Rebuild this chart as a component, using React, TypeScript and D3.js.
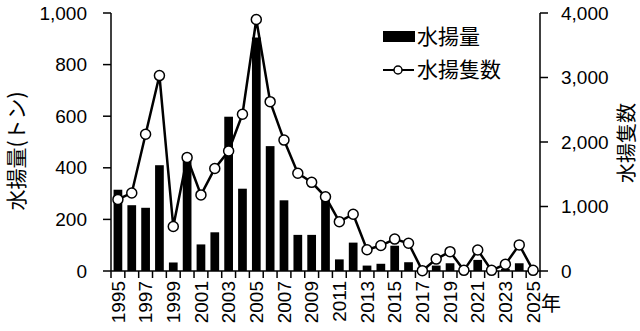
import React from "react";
import * as d3 from "d3";

const years: number[] = d3.range(1995, 2026);
const catch_t: number[] = [315, 255, 245, 410, 33, 455, 103, 150, 598, 319, 905, 484, 274, 140, 140, 278, 45, 110, 21, 28, 98, 34, 0, 21, 30, 0, 43, 0, 8, 30, 0];
const vessels: number[] = [1110, 1210, 2120, 3030, 690, 1760, 1180, 1590, 1860, 2430, 3900, 2625, 2030, 1515, 1375, 1150, 765, 880, 330, 395, 495, 430, 5, 185, 300, 10, 325, 10, 105, 405, 10];
const leftTicks: number[] = [0, 200, 400, 600, 800, 1000];
const rightTicks: number[] = [0, 1000, 2000, 3000, 4000];
const xLabelYears: number[] = d3.range(1995, 2026, 2);

const FONT = "'Liberation Sans', Arial, 'Noto Sans CJK JP', sans-serif";
const CJK = "'Noto Sans CJK JP', 'Liberation Sans', sans-serif";

export default function App() {
  const W = 640, H = 331;
  const left = 111, right = 540, top = 13, bottom = 271;
  const x = d3.scaleBand<number>().domain(years).range([left, right]).paddingInner(0.37).paddingOuter(0.185);
  const step = x.step();
  const yL = d3.scaleLinear().domain([0, 1000]).range([bottom, top]);
  const yR = d3.scaleLinear().domain([0, 4000]).range([bottom, top]);
  const cx = (yr: number) => (x(yr) as number) + x.bandwidth() / 2;
  const line = d3.line<number>().x((_, i) => cx(years[i])).y((v) => yR(v));
  const fmt = d3.format(",");
  const boundaries = d3.range(0, years.length + 1).map((i) => left + i * step);

  return (
    <svg width={W} height={H} style={{ position: "absolute", left: 0, top: 0, background: "#fff" }}>
      <rect x={0} y={0} width={W} height={H} fill="#fff" />
      {years.map((yr, i) => (
        <rect key={yr} x={x(yr)} y={yL(catch_t[i])} width={x.bandwidth()} height={bottom - yL(catch_t[i])} fill="#000" />
      ))}
      <line x1={left} x2={left} y1={top} y2={bottom} stroke="#000" strokeWidth={1.5} />
      <line x1={right} x2={right} y1={top} y2={bottom} stroke="#000" strokeWidth={1.5} />
      <line x1={left} x2={right} y1={bottom} y2={bottom} stroke="#000" strokeWidth={1.5} />
      {leftTicks.map((t) => (
        <g key={"l" + t}>
          <line x1={left - 8} x2={left} y1={yL(t)} y2={yL(t)} stroke="#000" strokeWidth={1.5} />
          <text x={87} y={yL(t)} dy="0.35em" textAnchor="end" fontFamily={FONT} fontSize={19} fill="#000">{fmt(t)}</text>
        </g>
      ))}
      {rightTicks.map((t) => (
        <g key={"r" + t}>
          <line x1={right} x2={right + 8} y1={yR(t)} y2={yR(t)} stroke="#000" strokeWidth={1.5} />
          <text x={561} y={yR(t)} dy="0.35em" textAnchor="start" fontFamily={FONT} fontSize={19} fill="#000">{fmt(t)}</text>
        </g>
      ))}
      {boundaries.map((b, i) => (
        <line key={"xt" + i} x1={b} x2={b} y1={bottom} y2={bottom + 7} stroke="#000" strokeWidth={1.5} />
      ))}
      {xLabelYears.map((yr) => (
        <text key={"xl" + yr} transform={`translate(${cx(yr)},281) rotate(-90)`} dy="0.35em" textAnchor="end" fontFamily={FONT} fontSize={19} fill="#000">{yr}</text>
      ))}
      <text x={541} y={304} dy="0.35em" fontFamily={CJK} fontSize={20} fill="#000">年</text>
      <path d={line(vessels) || ""} fill="none" stroke="#000" strokeWidth={2.5} />
      {years.map((yr, i) => (
        <circle key={"c" + yr} cx={cx(yr)} cy={yR(vessels[i])} r={5} fill="#fff" stroke="#000" strokeWidth={1.5} />
      ))}
      <text transform="translate(17,151) rotate(-90)" dy="0.35em" textAnchor="middle" fontFamily={CJK} fontSize={21} fill="#000">水揚量(トン)</text>
      <text transform="translate(627,143) rotate(-90)" dy="0.35em" textAnchor="middle" fontFamily={CJK} fontSize={20} fill="#000">水揚隻数</text>
      <rect x={383} y={31} width={32} height={11} fill="#000" />
      <text x={417} y={37} dy="0.35em" fontFamily={CJK} fontSize={21} fill="#000">水揚量</text>
      <line x1={383} x2={414} y1={70} y2={70} stroke="#000" strokeWidth={2} />
      <circle cx={398} cy={70} r={4} fill="#fff" stroke="#000" strokeWidth={1.5} />
      <text x={417} y={70} dy="0.35em" fontFamily={CJK} fontSize={21} fill="#000">水揚隻数</text>
    </svg>
  );
}
